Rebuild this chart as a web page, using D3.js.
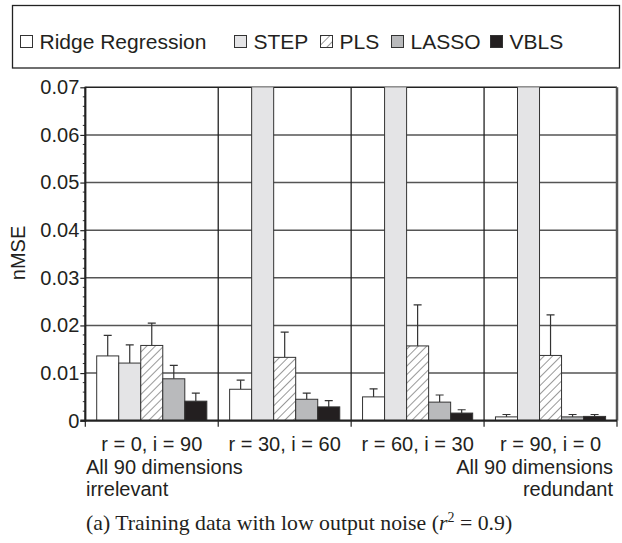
<!DOCTYPE html>
<html><head><meta charset="utf-8">
<script src="https://cdn.jsdelivr.net/npm/d3@7"></script>
<style>body{margin:0;background:#fff;}svg{display:block;}</style>
</head><body>
<svg id="c" width="622" height="543"></svg>
<script>
const categories = ["r = 0, i = 90","r = 30, i = 60","r = 60, i = 30","r = 90, i = 0"];
const series = ["Ridge Regression","STEP","PLS","LASSO","VBLS"];
const ridge = [0.0136,0.0066,0.0050,0.0008];
const ridgeErr = [0.0179,0.0085,0.0067,0.0013];
const step = [0.0121,0.08,0.08,0.08];
const stepErr = [0.0159,0.09,0.09,0.09];
const pls = [0.0158,0.0133,0.0157,0.0137];
const plsErr = [0.0205,0.0186,0.0243,0.0222];
const lasso = [0.0088,0.0045,0.0039,0.0008];
const lassoErr = [0.0116,0.0058,0.0054,0.0013];
const vbls = [0.0041,0.0029,0.0016,0.0009];
const vblsErr = [0.0058,0.0042,0.0023,0.0013];
const yTicks = [0,0.01,0.02,0.03,0.04,0.05,0.06,0.07];

const vals = [ridge,step,pls,lasso,vbls];
const errs = [ridgeErr,stepErr,plsErr,lassoErr,vblsErr];
const fills = ["#ffffff","#e4e4e6","url(#hatch)","#b9babc","#231f20"];

const svg = d3.select("#c");
const L=85.3,R=617,T=87.3,B=420.7;
const x = d3.scaleBand().domain(categories).range([L,R]).padding(0);
const bw = x.bandwidth();
const xs = d3.scaleBand().domain(series).range([11.4,bw-11.4]).padding(0);
const y = d3.scaleLinear().domain([0,0.07]).range([B,T]);

const defs = svg.append("defs");
const pat = defs.append("pattern").attr("id","hatch").attr("patternUnits","userSpaceOnUse")
  .attr("width",6).attr("height",6).attr("patternTransform","rotate(45)");
pat.append("rect").attr("width",6).attr("height",6).attr("fill","#fff");
pat.append("line").attr("x1",0).attr("y1",0).attr("x2",0).attr("y2",6).attr("stroke","#333").attr("stroke-width",1);
defs.append("clipPath").attr("id","clip").append("rect").attr("x",L).attr("y",T).attr("width",R-L).attr("height",B-T);

const font = "'Liberation Sans', Arial, Helvetica, sans-serif";
const FS = 20;

// legend
svg.append("rect").attr("x",12.5).attr("y",5.5).attr("width",607).attr("height",62.5)
  .attr("fill","none").attr("stroke","#222").attr("stroke-width",1.3);
const legX = [20,234,320,391,490];
series.forEach((s,i)=>{
  const g = svg.append("g");
  g.append("rect").attr("x",legX[i]+0.5).attr("y",35.5).attr("width",12).attr("height",12)
   .attr("fill",fills[i]).attr("stroke","#333").attr("stroke-width",1);
  g.append("text").attr("x",legX[i]+19.5).attr("y",48.5).attr("font-family",font).attr("font-size",21)
   .attr("fill","#231f20").text(s);
});

// horizontal gridlines
svg.append("g").selectAll("line").data(yTicks.slice(1,7)).join("line")
  .attr("x1",L).attr("x2",R).attr("y1",d=>y(d)).attr("y2",d=>y(d))
  .attr("stroke","#555").attr("stroke-width",1.5);
svg.append("line").attr("x1",L).attr("x2",R).attr("y1",T).attr("y2",T).attr("stroke","#222").attr("stroke-width",1.5);
// vertical separators
svg.append("g").selectAll("line").data(categories.slice(1)).join("line")
  .attr("x1",d=>x(d)).attr("x2",d=>x(d)).attr("y1",T).attr("y2",B)
  .attr("stroke","#222").attr("stroke-width",1.3);

// bars
const gBars = svg.append("g").attr("clip-path","url(#clip)");
series.forEach((s,si)=>{
  categories.forEach((c,ci)=>{
    const x0 = x(c)+xs(s), w = xs.bandwidth();
    const v = vals[si][ci], e = errs[si][ci];
    const cx = x0 + w/2;
    gBars.append("line").attr("x1",cx).attr("x2",cx).attr("y1",y(v)).attr("y2",y(e)).attr("stroke","#333").attr("stroke-width",1.2);
    gBars.append("line").attr("x1",cx-4).attr("x2",cx+4).attr("y1",y(e)).attr("y2",y(e)).attr("stroke","#333").attr("stroke-width",1.2);
    gBars.append("rect").attr("x",x0).attr("y",y(v)).attr("width",w).attr("height",B-y(v))
      .attr("fill",fills[si]).attr("stroke","#333").attr("stroke-width",1);
  });
});

// right border
svg.append("line").attr("x1",R).attr("x2",R).attr("y1",T).attr("y2",B).attr("stroke","#555").attr("stroke-width",2.5);

// y axis
const yAxis = d3.axisLeft(y).tickValues(yTicks).tickSize(5).tickFormat(d=>d===0?"0":d3.format(".2f")(d));
const ga = svg.append("g").attr("transform",`translate(${L},0)`).call(yAxis);
ga.select(".domain").remove();
ga.selectAll("line").attr("stroke","#222").attr("stroke-width",1.2);
ga.selectAll("text").attr("font-family",font).attr("font-size",FS).attr("fill","#231f20").attr("x",-6);
const minor = d3.range(0,0.0701,0.002).filter(v=>Math.abs(v*100-Math.round(v*100))>1e-6);
svg.append("g").selectAll("line").data(minor).join("line")
  .attr("x1",L-2.5).attr("x2",L).attr("y1",d=>y(d)).attr("y2",d=>y(d)).attr("stroke","#333").attr("stroke-width",1);
svg.append("line").attr("x1",L).attr("x2",L).attr("y1",T-0.5).attr("y2",B+1).attr("stroke","#222").attr("stroke-width",2.2);

// x axis
svg.append("line").attr("x1",L-5).attr("x2",R).attr("y1",B).attr("y2",B).attr("stroke","#222").attr("stroke-width",2.2);
const xb = categories.map(c=>x(c)).concat([R]);
svg.append("g").selectAll("line").data(xb).join("line")
  .attr("x1",d=>d).attr("x2",d=>d).attr("y1",B).attr("y2",B+6).attr("stroke","#222").attr("stroke-width",1.2);
svg.append("g").selectAll("text").data(categories).join("text")
  .attr("x",d=>x(d)+bw/2).attr("y",451).attr("text-anchor","middle")
  .attr("font-family",font).attr("font-size",FS).attr("fill","#231f20").text(d=>d);

// y label
svg.append("text").attr("transform","translate(25,253) rotate(-90)").attr("text-anchor","middle")
  .attr("font-family",font).attr("font-size",FS).attr("fill","#231f20").text("nMSE");

// annotations
const ann = [["All 90 dimensions",86,474,"start"],["irrelevant",86,496,"start"],
             ["All 90 dimensions",613,474,"end"],["redundant",613,496,"end"]];
ann.forEach(a=>svg.append("text").attr("x",a[1]).attr("y",a[2]).attr("text-anchor",a[3])
  .attr("font-family",font).attr("font-size",FS).attr("fill","#231f20").text(a[0]));

// caption
const cap = svg.append("text").attr("x",86).attr("y",530).attr("font-family","'Liberation Serif', 'Times New Roman', serif")
  .attr("font-size",21.8).attr("fill","#231f20");
cap.append("tspan").text("(a) Training data with low output noise (");
cap.append("tspan").attr("font-style","italic").text("r");
cap.append("tspan").attr("font-size",14).attr("dy",-8).text("2");
cap.append("tspan").attr("dy",8).text(" = 0.9)");
</script>
</body></html>
